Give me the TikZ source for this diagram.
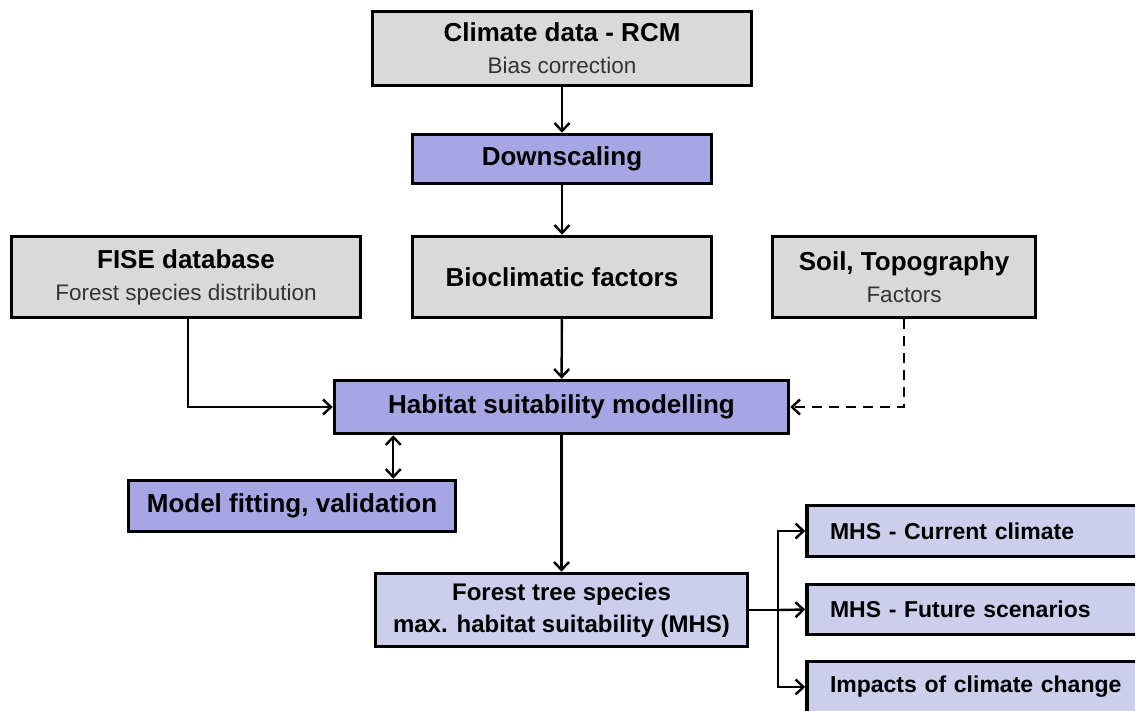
\documentclass[tikz,border=0pt]{standalone}
\usepackage{fontspec}
\setmainfont{Liberation Sans}
\usepackage{tikz}
\usetikzlibrary{arrows.meta}
\usetikzlibrary{calc}

\definecolor{cajagris}{RGB}{217,217,217}
\definecolor{cajaazul}{RGB}{166,166,228}
\definecolor{cajalila}{RGB}{205,205,236}

\begin{document}
\begin{tikzpicture}[
        x=1pt, y=-1pt, % Coordenadas en pixeles, eje y hacia abajo
        font=\fontsize{26}{32}\selectfont,
        % --- Estilos personalizados para mayor claridad ---
        caja/.style={draw=black, line width=3.5pt, align=center, inner sep=0pt},
        datos/.style={caja, fill=cajagris},
        proceso/.style={caja, fill=cajaazul, font=\fontsize{26}{32}\selectfont\bfseries},
        resultado/.style={caja, fill=cajalila, font=\fontsize{24}{32}\selectfont\bfseries},
        salida/.style={resultado, font=\fontsize{23}{32}\selectfont\bfseries,
            minimum width=330, text width=326, align=left,
            execute at begin node=\hspace*{21pt}},
        flecha/.style={-{Straight Barb[length=8pt, width=15pt]}, line width=2.4pt},
        flechadis/.style={flecha, dash pattern=on 10pt off 7pt},
    ]
        \useasboundingbox (0,0) rectangle (1135,711);

        % --- 1. Cajas de datos de entrada ---
        \node[datos, minimum width=379, minimum height=74] (clima) at (562,48.5)
            {\textbf{Climate data - RCM}\\{\fontsize{22.5}{32}\selectfont\color{black!80}Bias correction}};
        \node[proceso, minimum width=299, minimum height=49] (reduccion) at (562,159) {Downscaling};
        \node[datos, minimum width=349, minimum height=81] (fise) at (186,277)
            {\textbf{FISE database}\\{\fontsize{22.5}{32}\selectfont\color{black!80}Forest species distribution}};
        \node[datos, minimum width=299, minimum height=81, font=\fontsize{26}{32}\selectfont\bfseries] (bioclima) at (562,277) {Bioclimatic factors};
        \node[datos, minimum width=263, minimum height=81] (suelo) at (904,277)
            {\textbf{Soil, Topography}\\{\fontsize{22.5}{32}\selectfont\color{black!80}Factors}};

        % --- 2. Modelado y ajuste ---
        \node[proceso, minimum width=454, minimum height=53] (habitat) at (561.5,407) {Habitat suitability modelling};
        \node[proceso, minimum width=327, minimum height=51] (modelo) at (292,506) {Model fitting, validation};

        % --- 3. Resultados ---
        \node[resultado, minimum width=372, minimum height=73] (bosque) at (561.5,610)
            {Forest tree species\\max. habitat suitability (MHS)};
        \node[salida, minimum height=51] (actual) at (972,531) {MHS - Current climate};
        \node[salida, minimum height=50] (futuro) at (972,609.5) {MHS - Future scenarios};
        \node[salida, minimum height=51] (impacto) at (972,687) {Impacts of climate change};

        % --- 4. Conexiones ---
        \draw[flecha] (clima) -- (reduccion);
        \draw[flecha] (reduccion) -- (bioclima);
        \draw[flecha] (bioclima) -- (habitat);
        \draw[flecha] ([xshift=2]fise.south) |- (habitat.west);
        \draw[flechadis] (suelo.south) |- (habitat.east);
        \draw[flecha, {Straight Barb[length=8pt, width=15pt]}-{Straight Barb[length=8pt, width=15pt]}]
            ([xshift=-64]modelo.north east) -- ([xshift=-64]modelo.north east |- habitat.south);
        \draw[flecha] (habitat) -- (bosque);

        % Ramificacion hacia los tres resultados
        \coordinate (rama) at ([xshift=29]bosque.east);
        \draw[line width=2.4pt] (bosque.east) -- (rama);
        \draw[flecha] (rama) |- (actual.west);
        \draw[flecha] (rama) -- (futuro.west);
        \draw[flecha] (rama) |- (impacto.west);

    \end{tikzpicture}
\end{document}
